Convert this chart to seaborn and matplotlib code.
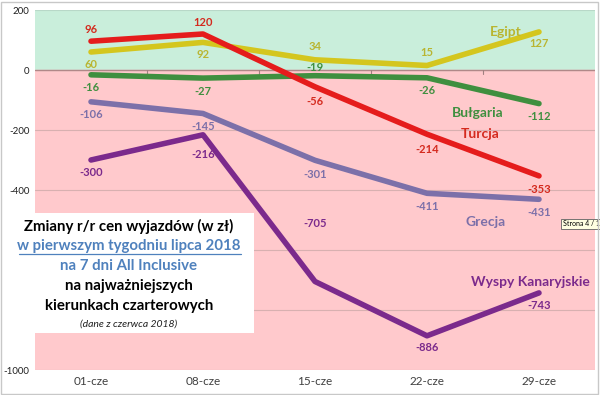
import matplotlib
matplotlib.use("Agg")
import matplotlib.pyplot as plt
import seaborn as sns
import pandas as pd
import numpy as np
from matplotlib.patches import Rectangle

categories = ["01-cze", "08-cze", "15-cze", "22-cze", "29-cze"]
egipt = [60, 92, 34, 15, 127]
turcja = [96, 120, -56, -214, -353]
bulgaria = [-16, -27, -19, -26, -112]
grecja = [-106, -145, -301, -411, -431]
wyspy = [-300, -216, -705, -886, -743]
series_names = ["Egipt", "Bułgaria", "Turcja", "Grecja", "Wyspy Kanaryjskie"]
yticks = [200, 0, -200, -400, -600, -800, -1000]
ytick_labels = ["200", "0", "-200", "-400", "", "", "-1000"]

series = {"Egipt": egipt, "Bułgaria": bulgaria, "Turcja": turcja,
          "Grecja": grecja, "Wyspy Kanaryjskie": wyspy}
line_colors = {"Egipt": "#d4c61e", "Bułgaria": "#3f8f3f", "Turcja": "#e51c1c",
               "Grecja": "#7c70a9", "Wyspy Kanaryjskie": "#7b2a8c"}
label_colors = {"Egipt": "#b9b531", "Bułgaria": "#3f8f3f", "Turcja": "#d42a1e",
                "Grecja": "#7c70a9", "Wyspy Kanaryjskie": "#7b2a8c"}
# label offsets in pixels (positive = above)
label_off = {"Egipt": [-12, -12, 13, 13, -12],
             "Bułgaria": [-13, -13, 8, -13, -13],
             "Turcja": [12, 12, -15, -15, -14],
             "Grecja": [-13, -13, -14, -13, -13],
             "Wyspy Kanaryjskie": [-12, -20, 58, -12, -13]}

rows = []
for name in series_names:
    for i, v in enumerate(series[name]):
        rows.append({"x": i, "value": v, "series": name})
df = pd.DataFrame(rows)

sns.set_theme(style="white")
plt.rcParams["font.family"] = ["Lato", "DejaVu Sans"]

fig = plt.figure(figsize=(6.0, 3.95), dpi=100)
ax = fig.add_axes([35/600, 1-370/395, 560/600, 360/395])

ax.axhspan(0, 200, color="#c9eedb", zorder=0)
ax.axhspan(-1000, 0, color="#ffc9cc", zorder=0)
for y in yticks:
    ax.axhline(y, color="#d8b0b0" if y < 0 else "#b8d8c8", lw=0.8, zorder=1)
ax.axhline(0, color="#b08888", lw=1.0, zorder=1)
for xb in [0.5, 1.5, 2.5, 3.5]:
    ax.plot([xb, xb], [0, -12], color="#a08080", lw=0.8, zorder=1)

sns.lineplot(data=df, x="x", y="value", hue="series", palette=line_colors,
             hue_order=series_names, linewidth=4, legend=False, ax=ax, zorder=3)

for name in series_names:
    for i, v in enumerate(series[name]):
        off = label_off[name][i] * 0.72
        ax.annotate(str(v), (i, v), xytext=(0, off), textcoords="offset points",
                    ha="center", va="center", fontsize=8, fontweight="bold",
                    color=label_colors[name], zorder=4)

name_labels = [("Egipt", 3.7, 127), ("Bułgaria", 3.45, -143), ("Turcja", 3.47, -215),
               ("Grecja", 3.52, -507), ("Wyspy Kanaryjskie", 3.92, -705)]
for name, x, y in name_labels:
    ax.text(x, y, name, color=label_colors[name], fontsize=10, fontweight="bold",
            ha="center", va="center", zorder=4)

ax.set_xlim(-0.5, 4.5)
ax.set_ylim(-1000, 200)
ax.set_xticks(range(len(categories)))
ax.set_xticklabels(categories, fontsize=8.5, color="#404040")
ax.set_yticks(yticks)
ax.set_yticklabels(ytick_labels, fontsize=7, color="#202020")
ax.tick_params(axis="both", length=0, pad=4)
ax.set_xlabel("")
ax.set_ylabel("")
for s in ax.spines.values():
    s.set_visible(False)

# title box
fig.patches.append(Rectangle((0/600, 1-333/395), 254/600, 120/395,
                             transform=fig.transFigure, facecolor="white",
                             edgecolor="none", zorder=5))
cx = 129/600
lines = [("Zmiany r/r cen wyjazdów (w zł)", 226, "#000000", False),
         ("w pierwszym tygodniu lipca 2018", 246, "#4f81bd", True),
         ("na 7 dni All Inclusive", 266, "#4f81bd", False),
         ("na najważniejszych", 286, "#000000", False),
         ("kierunkach czarterowych", 306, "#000000", False)]
for txt, y, col, ul in lines:
    fig.text(cx, 1-y/395, txt, ha="center", va="center", fontsize=10.8,
             fontweight="bold", color=col, zorder=6)
    if ul:
        fig.lines.append(plt.Line2D([19/600, 241/600], [1-(y+8)/395]*2,
                                    transform=fig.transFigure, color=col, lw=0.9,
                                    zorder=6))
fig.text(cx, 1-324/395, "(dane z czerwca 2018)", ha="center", va="center",
         fontsize=7.5, fontstyle="italic", color="#202020", zorder=6)

# tooltip artifact
fig.text(563/600, 1-224/395, "Strona 4 / 1", fontsize=5, ha="left", va="center",
         color="#000000", zorder=7,
         bbox=dict(boxstyle="square,pad=0.25", facecolor="#ffffe1",
                   edgecolor="#606060", lw=0.6))

# outer border
fig.patches.append(Rectangle((1/600, 1/395), 597/600, 392/395,
                             transform=fig.transFigure, facecolor="none",
                             edgecolor="#c8c8c8", lw=1, zorder=8))

fig.savefig("out.png", dpi=100)
